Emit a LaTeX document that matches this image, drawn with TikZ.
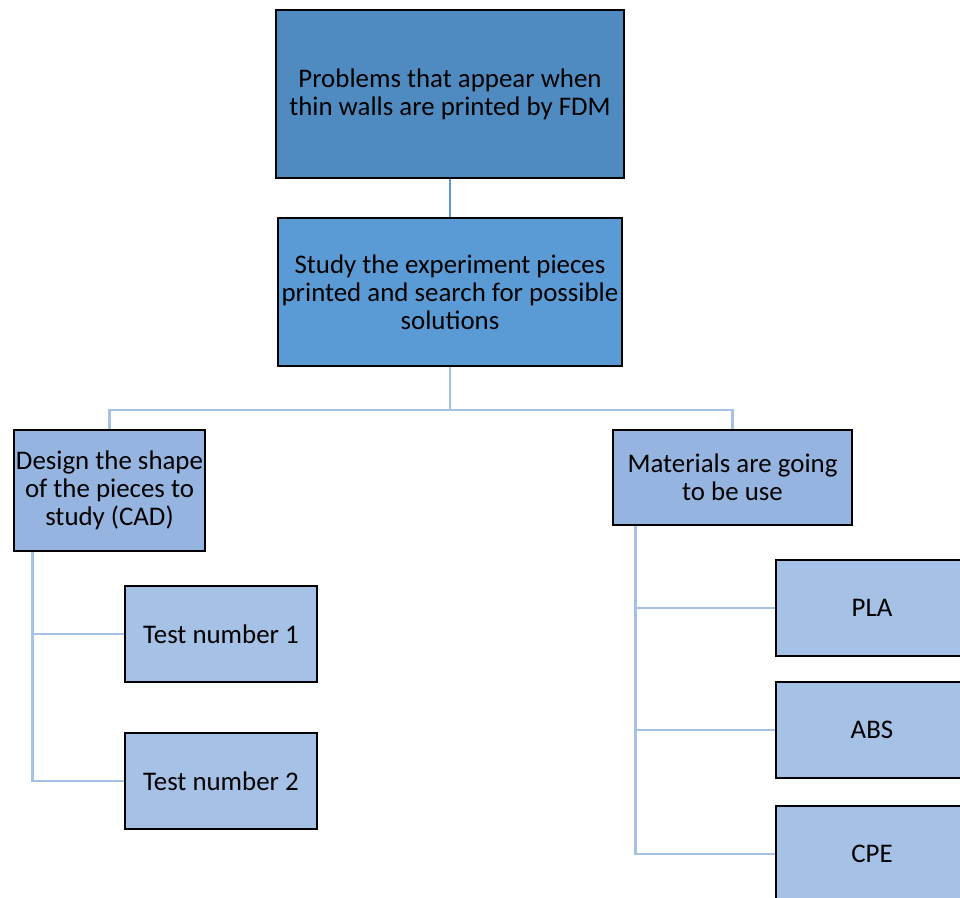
\documentclass[tikz,border=0pt]{standalone}
\usepackage{fontspec}
\setmainfont{Carlito}
\usepackage{tikz}
\usetikzlibrary{calc}
\definecolor{topfill}{HTML}{4F8BC1}
\definecolor{midfill}{HTML}{5B9BD5}
\definecolor{subfill}{HTML}{95B5E0}
\definecolor{leaffill}{HTML}{A5C1E5}
\definecolor{linkdark}{HTML}{5B9BD5}
\definecolor{linklight}{HTML}{A5C1E5}
\tikzset{
  box/.style={draw=black, line width=1.5pt, align=center, inner sep=1pt,
    font=\fontsize{15.3}{16}\selectfont},
  topbox/.style={box, fill=topfill, minimum width=6.96cm, minimum height=3.36cm},
  midbox/.style={box, fill=midfill, minimum width=6.88cm, minimum height=2.96cm},
  subbox/.style={box, fill=subfill, minimum height=1.9cm},
  leaf/.style={box, fill=leaffill, minimum width=3.84cm, minimum height=1.92cm},
  link/.style={draw=linklight, line width=1.6pt},
  linkd/.style={draw=linkdark, line width=1.6pt}
}

\begin{document}
\begin{tikzpicture}[x=0.02cm, y=-0.02cm]
  \useasboundingbox (0,0) rectangle (960,897);
  \clip (0,0) rectangle (960,897);

  \node[topbox] (top) at (450,94) {Problems that appear when\\thin walls are printed by FDM};
  \node[midbox] (study) at (450,292) {Study the experiment pieces\\printed and search for possible\\solutions};

  \node[subbox, minimum width=3.82cm, minimum height=2.42cm] (design) at (109.5,490.5)
    {Design the shape\\of the pieces to\\study (CAD)};
  \node[subbox, minimum width=4.78cm] (materials) at (732.5,477.5) {Materials are going\\to be use};

  \node[leaf] (testa) at (221,634) {Test number 1};
  \node[leaf] (testb) at (221,781) {Test number 2};

  \node[leaf] (pla) at (872,608) {PLA};
  \node[leaf] (abs) at (872,730) {ABS};
  \node[leaf] (cpe) at (872,854) {CPE};

  \coordinate (split) at (450,410);
  \coordinate (dleft) at ($(design.south west)+(20,0)$);
  \coordinate (mleft) at ($(materials.south west)+(24,0)$);

  \draw[linkd] (top.south) -- (study.north);
  \draw[link] (study.south) -- (split);
  \draw[link] (split) -| (design.north);
  \draw[link] (split) -| (materials.north);

  \draw[link] (dleft) |- (testa.west);
  \draw[link] (dleft) |- (testb.west);

  \draw[link] (mleft) |- (pla.west);
  \draw[link] (mleft) |- (abs.west);
  \draw[link] (mleft) |- (cpe.west);
\end{tikzpicture}
\end{document}
